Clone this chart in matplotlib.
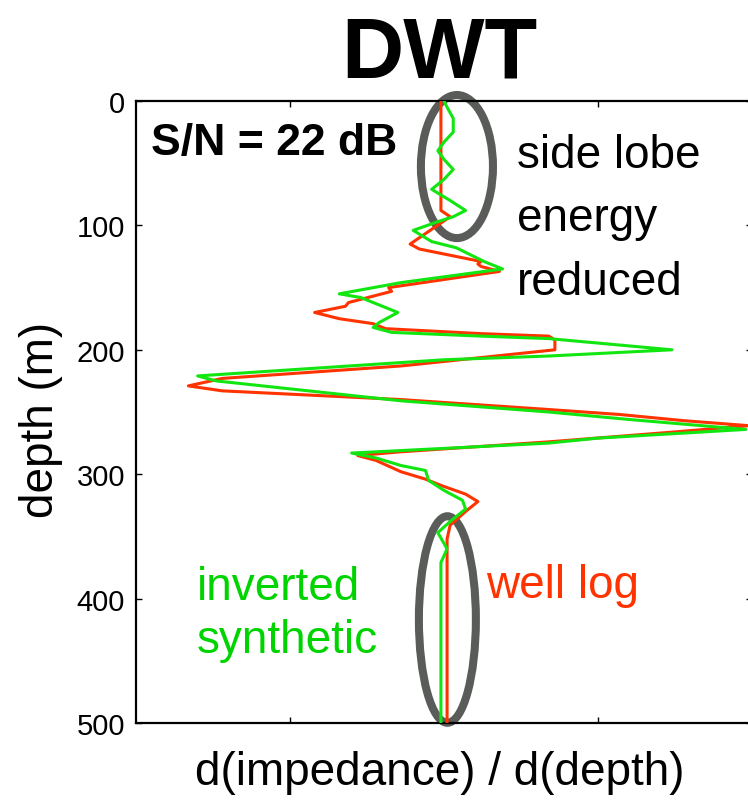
import matplotlib.pyplot as plt
from matplotlib.patches import Ellipse

# reflectivity traces: depth (m) and d(impedance)/d(depth), normalised
well_depth = [0, 88, 93, 115, 119, 129, 131, 133, 137, 150, 153, 162, 165, 170,
              175, 179, 183, 187, 189, 192, 200, 213, 223, 229, 233, 240, 248,
              252, 257, 261, 266, 274, 282, 285, 289, 298, 304, 309, 316, 322,
              330, 341, 352, 500]
well_refl = [-0.01, -0.01, 0.02, -0.11, -0.08, 0.12, 0.11, 0.12, 0.18, -0.18,
             -0.17, -0.31, -0.32, -0.42, -0.34, -0.23, -0.19, 0.12, 0.34, 0.36,
             0.36, -0.14, -0.72, -0.83, -0.72, -0.14, 0.34, 0.57, 0.78, 0.99,
             0.75, 0.34, -0.14, -0.28, -0.22, -0.14, -0.06, -0.01, 0.07, 0.11,
             0.07, 0.02, 0.01, 0.01]

inv_depth = [0, 5, 14, 25, 33, 40, 47, 55, 63, 71, 80, 88, 93, 97, 104, 113,
             118, 129, 135, 146, 155, 158, 170, 178, 182, 186, 189, 191, 200,
             205, 208, 221, 225, 241, 250, 256, 264, 271, 275, 281, 283, 287,
             293, 297, 305, 313, 321, 328, 338, 347, 360, 371, 400, 432, 500]
inv_refl = [-0.00, 0.01, 0.03, 0.03, 0.00, -0.02, 0.00, 0.03, 0.00, -0.04,
            0.02, 0.07, 0.03, -0.02, -0.10, -0.04, 0.04, 0.13, 0.19, -0.14,
            -0.34, -0.27, -0.15, -0.21, -0.23, -0.17, 0.12, 0.34, 0.74, 0.34,
            0.0, -0.80, -0.74, -0.14, 0.34, 0.60, 0.98, 0.50, 0.34, -0.14,
            -0.30, -0.22, -0.14, -0.06, -0.05, -0.00, 0.06, 0.07, 0.02, -0.02,
            0.01, -0.01, -0.01, -0.01, -0.01]

depth_ticks = [0, 100, 200, 300, 400, 500]

RED = '#ff3300'
GREEN = '#11e611'
GREY = '#595c59'
W, H = 748, 803

plt.rcParams['font.family'] = ['Liberation Sans', 'DejaVu Sans']

fig = plt.figure(figsize=(W / 100, H / 100), dpi=100)
ax = fig.add_axes([136 / W, 1 - 724 / H, 616 / W, 622 / H])

# annotation ellipses around the shallow and deep parts of the section
for cx, cy, w, h in [(0.042, 52.7, 0.234, 115), (0.011, 416.8, 0.185, 166)]:
    ax.add_patch(Ellipse((cx, cy), w, h, fill=False, edgecolor=GREY,
                         lw=5.8, clip_on=False, zorder=2))

ax.plot(well_refl, well_depth, color=RED, lw=2.2, zorder=3)
ax.plot(inv_refl, inv_depth, color=GREEN, lw=2.2, zorder=4)

ax.set_xlim(-1, 1)
ax.set_ylim(500, 0)
ax.set_xticks([-0.5, 0.5])
ax.set_xticklabels([])
ax.set_yticks(depth_ticks)
ax.tick_params(direction='in', length=4.5, width=1, top=True, right=True,
               labelsize=21, pad=8)
for s in ax.spines.values():
    s.set_linewidth(1.6)

def px(x, y):
    return x / W, 1 - y / H

fig.text(*px(439, 78), 'DWT', ha='center', va='baseline', fontsize=62,
         fontweight='bold')
fig.text(*px(151, 155), 'S/N = 22 dB', ha='left', va='baseline', fontsize=32,
         fontweight='bold')
for line, yb in zip(['side lobe', 'energy', 'reduced'], [168, 231, 295]):
    fig.text(*px(517, yb), line, ha='left', va='baseline', fontsize=33)
for line, yb in zip(['inverted', 'synthetic'], [600, 653]):
    fig.text(*px(197, yb), line, ha='left', va='baseline', fontsize=33,
             color='#00d400')
fig.text(*px(486, 598), 'well log', ha='left', va='baseline', fontsize=33,
         color=RED)
fig.text(*px(440, 785), 'd(impedance) / d(depth)', ha='center', va='baseline',
         fontsize=33)
fig.text(*px(41, 420), 'depth (m)', ha='center', va='center', rotation=90,
         fontsize=33)

fig.savefig('out.png', dpi=100)
